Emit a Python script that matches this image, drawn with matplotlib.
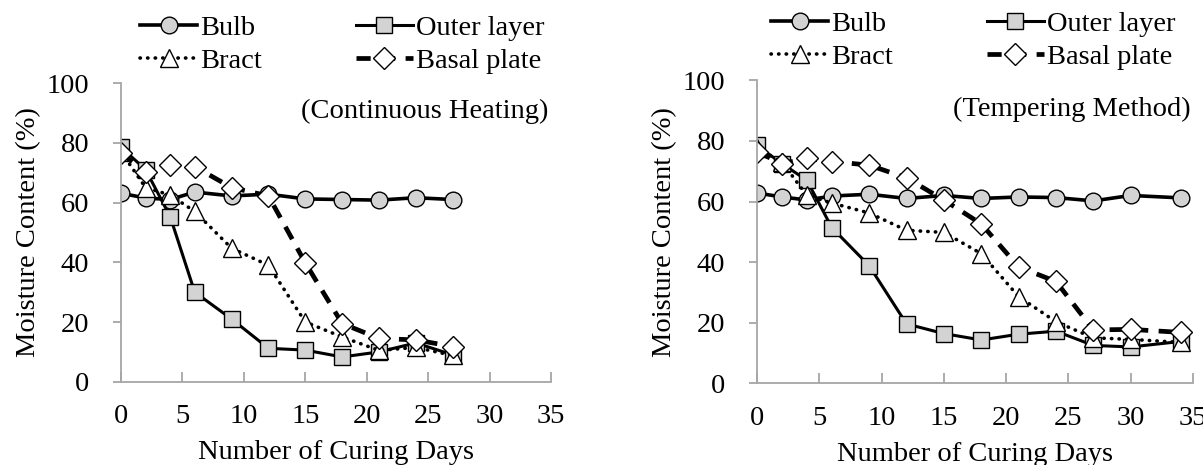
import matplotlib.pyplot as plt

plt.rcParams['font.family'] = ['Liberation Serif', 'DejaVu Serif']

# curing days
days_cont = [0, 2, 4, 6, 9, 12, 15, 18, 21, 24, 27]
days_temp = [0, 2, 4, 6, 9, 12, 15, 18, 21, 24, 27, 30, 34]

# continuous heating
bulb_cont = [63.1, 61.5, 61.0, 63.5, 62.2, 62.8, 61.2, 61.0, 60.8, 61.6, 61.0]
outer_cont = [78.5, 71.0, 55.3, 30.0, 21.0, 11.2, 10.6, 8.3, 10.0, 13.0, 9.0]
bract_cont = [77.0, 65.0, 62.5, 57.0, 44.7, 39.0, 20.0, 15.0, 10.5, 11.5, 8.8]
basal_cont = [76.5, 70.2, 72.5, 72.0, 65.0, 62.2, 39.8, 19.5, 14.5, 14.0, 11.8]

# tempering method
bulb_temp = [62.8, 61.5, 60.5, 61.8, 62.4, 61.0, 62.0, 61.0, 61.5, 61.3, 60.2, 62.0, 61.2]
outer_temp = [78.5, 72.5, 67.0, 51.4, 38.8, 19.6, 16.4, 14.3, 16.2, 17.2, 12.5, 12.0, 13.8]
bract_temp = [77.5, 73.0, 62.0, 59.5, 56.2, 50.5, 49.8, 42.8, 28.6, 20.3, 15.0, 14.5, 13.5]
basal_temp = [76.4, 72.5, 74.2, 73.2, 72.0, 67.8, 60.5, 52.6, 38.4, 33.6, 17.6, 17.8, 16.8]

gray = '#d3d3d3'
styles = {
    'Bulb': dict(color='black', lw=2.6, ls='-', marker='o', ms=12, mfc=gray, mec='black', mew=1.0),
    'Outer layer': dict(color='black', lw=2.2, ls='-', marker='s', ms=12, mfc=gray, mec='black', mew=1.0),
    'Bract': dict(color='black', lw=2.6, ls=(0, (0.1, 2.0)), marker='^', ms=13, mfc='white', mec='black', mew=1.0,
                  dash_capstyle='round'),
    'Basal plate': dict(color='black', lw=3.4, ls=(0, (3.0, 2.2)), marker='D', ms=11, mfc='white', mec='black', mew=1.0),
}

fig = plt.figure(figsize=(12.03, 4.65), dpi=100)
ax1 = fig.add_axes([0.1006, 0.1790, 0.3574, 0.6425])
ax2 = fig.add_axes([0.6293, 0.1757, 0.3624, 0.6516])

panels = [
    (ax1, days_cont, [bulb_cont, outer_cont, bract_cont, basal_cont], '(Continuous Heating)', 0.012),
    (ax2, days_temp, [bulb_temp, outer_temp, bract_temp, basal_temp], '(Tempering Method)', 0.0),
]
names = ['Bulb', 'Outer layer', 'Bract', 'Basal plate']

for ax, days, series, note, legx in panels:
    handles = {}
    for name, vals in zip(names, series):
        h, = ax.plot(days, vals, label=name, **styles[name])
        handles[name] = h
    ax.set_xlim(0, 35)
    ax.set_ylim(0, 100)
    ax.set_xticks(range(0, 36, 5))
    ax.set_yticks(range(0, 101, 20))
    for s in ['top', 'right']:
        ax.spines[s].set_visible(False)
    for s in ['left', 'bottom']:
        ax.spines[s].set_color('#a6a6a6')
        ax.spines[s].set_linewidth(1.3)
    ax.tick_params(axis='x', direction='in', length=7, width=1.3, color='#a6a6a6', labelsize=20.5, pad=16)
    ax.tick_params(axis='y', direction='out', length=6, width=1.3, color='#a6a6a6', labelsize=20.5, pad=17)
    ax.set_xlabel('Number of Curing Days', fontsize=20.5, labelpad=8)
    ax.set_ylabel('Moisture Content (%)', fontsize=20.5, labelpad=4)
    ax.text(0.995, 0.905, note, transform=ax.transAxes, ha='right', va='center', fontsize=20.5)
    order = ['Bulb', 'Bract', 'Outer layer', 'Basal plate']
    ax.legend([handles[n] for n in order], order, ncol=2, frameon=False, fontsize=20.5,
              loc='upper left', bbox_to_anchor=(legx, 1.275), handlelength=2.0,
              handletextpad=0.1, columnspacing=3.3, labelspacing=0.25, borderpad=0)

fig.savefig('out.png', dpi=100)
